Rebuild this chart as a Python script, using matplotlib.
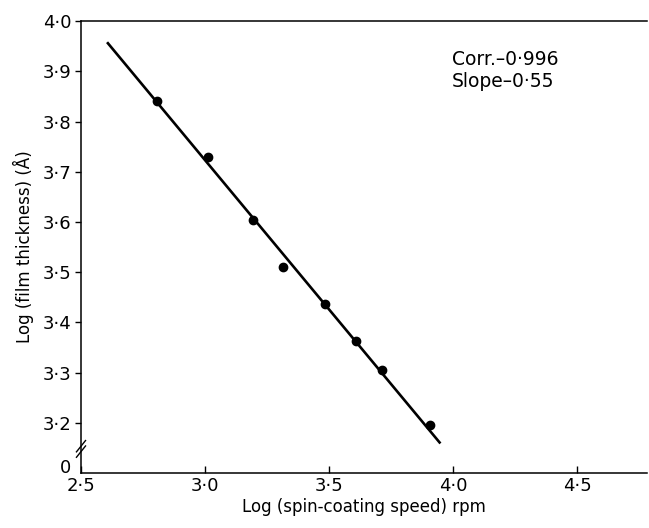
import matplotlib.pyplot as plt

# data (log rpm, log thickness)
speed = [2.806, 3.012, 3.194, 3.315, 3.484, 3.609, 3.714, 3.907]
thickness = [3.841, 3.730, 3.604, 3.511, 3.437, 3.364, 3.306, 3.195]

# ends of the fitted line
fit_x = [2.605, 3.948]
fit_y = [3.958, 3.159]

x_ticks = [2.5, 3.0, 3.5, 4.0, 4.5]
y_ticks = [3.2, 3.3, 3.4, 3.5, 3.6, 3.7, 3.8, 3.9, 4.0]


def dot_label(v):
    # old-style decimal point
    return f'{v:.1f}'.replace('.', '\u00b7')


fig = plt.figure(figsize=(6.49, 5.28), dpi=100)
ax = fig.add_axes([0.1248, 0.104, 0.872, 0.856])

ax.plot(fit_x, fit_y, color='black', lw=1.9, solid_capstyle='butt')
ax.plot(speed, thickness, 'o', color='black', ms=6)

ax.set_xlim(2.5, 4.78)
ax.set_ylim(3.10, 4.0)

ax.set_xticks(x_ticks)
ax.set_xticklabels([dot_label(v) for v in x_ticks], fontsize=13)
ax.set_yticks([3.115] + y_ticks)
ax.set_yticklabels(['0'] + [dot_label(v) for v in y_ticks], fontsize=13)
ax.tick_params(axis='x', direction='in', length=5, width=1, pad=3)
ax.tick_params(axis='y', direction='out', length=4, width=1, pad=3)
ax.yaxis.get_major_ticks()[0].tick1line.set_markersize(0)

for s in ['left', 'bottom', 'top']:
    ax.spines[s].set_linewidth(1.1)
ax.spines['right'].set_visible(False)

# axis break marks on the y axis
for dy in (0.0, 0.012):
    ax.plot([-0.008, 0.008], [0.035 + dy, 0.06 + dy], color='black', lw=1,
            transform=ax.transAxes, clip_on=False)

ax.set_xlabel('Log (spin-coating speed) rpm', fontsize=12, labelpad=2)
ax.set_ylabel('Log (film thickness) (Å)', fontsize=12, labelpad=6)

ax.text(0.655, 0.935, 'Corr.\u20130\u00b7996\nSlope\u20130\u00b755',
        transform=ax.transAxes, fontsize=13.5, va='top', linespacing=1.15)

fig.savefig('out.png', dpi=100)
